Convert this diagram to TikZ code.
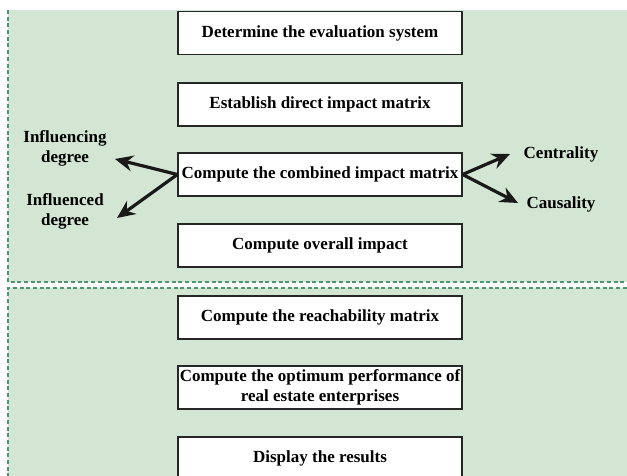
\documentclass[tikz,border=0pt]{standalone}
\usepackage{fontspec}
\setmainfont{Liberation Serif}
\usetikzlibrary{arrows.meta}
\definecolor{panelgreen}{RGB}{211,229,211}
\definecolor{edgegreen}{RGB}{78,150,112}
\tikzset{
  stepbox/.style={draw=black!85, line width=1.3pt, fill=white,
    minimum width=284pt, minimum height=43pt, inner xsep=0pt, inner ysep=2pt,
    align=center, font=\fontsize{17}{20}\selectfont\bfseries},
  sidetext/.style={align=center, font=\fontsize{17}{20}\selectfont\bfseries},
  edgeline/.style={draw=edgegreen, line width=1.2pt, dash pattern=on 4pt off 2.7pt},
  fatarrow/.style={line width=3.2pt, black!90, -{Stealth[length=18pt,width=16pt,inset=6pt]}}
}
\begin{document}
\begin{tikzpicture}[x=1pt, y=-1pt]
\useasboundingbox (0,0) rectangle (627,476);
\clip (0,0) rectangle (627,476);
% two panels
\fill[panelgreen] (8,10) rectangle (640,282);
\fill[panelgreen] (8,288) rectangle (640,490);
\draw[edgeline] (8,10) -- (8,282) -- (640,282);
\draw[edgeline] (640,288) -- (8,288) -- (8,490);
% steps
\node[stepbox] (eval) at (320,33) {Determine the evaluation system};
\node[stepbox] (direct) at (320,104.5) {Establish direct impact matrix};
\node[stepbox] (combined) at (320,174.5) {Compute the combined impact matrix};
\node[stepbox] (overall) at (320,245.5) {Compute overall impact};
\node[stepbox] (reach) at (320,317.5) {Compute the reachability matrix};
\node[stepbox] (optimum) at (320,387.5) {Compute the optimum performance of\\real estate enterprises};
\node[stepbox] (results) at (320,458.5) {Display the results};
% side labels
\node[sidetext] (influencing) at (65,148) {Influencing\\degree};
\node[sidetext] (influenced) at (65,211) {Influenced\\degree};
\node[sidetext] (centrality) at (561,154) {Centrality};
\node[sidetext] (causality) at (561,204) {Causality};
\coordinate (tipA) at (115,159);
\coordinate (tipB) at (117,218);
\coordinate (tipC) at (510,154);
\coordinate (tipD) at (518,203);
\draw[fatarrow] (combined.west) -- (tipA);
\draw[fatarrow] (combined.west) -- (tipB);
\draw[fatarrow] (combined.east) -- (tipC);
\draw[fatarrow] (combined.east) -- (tipD);
\end{tikzpicture}
\end{document}
